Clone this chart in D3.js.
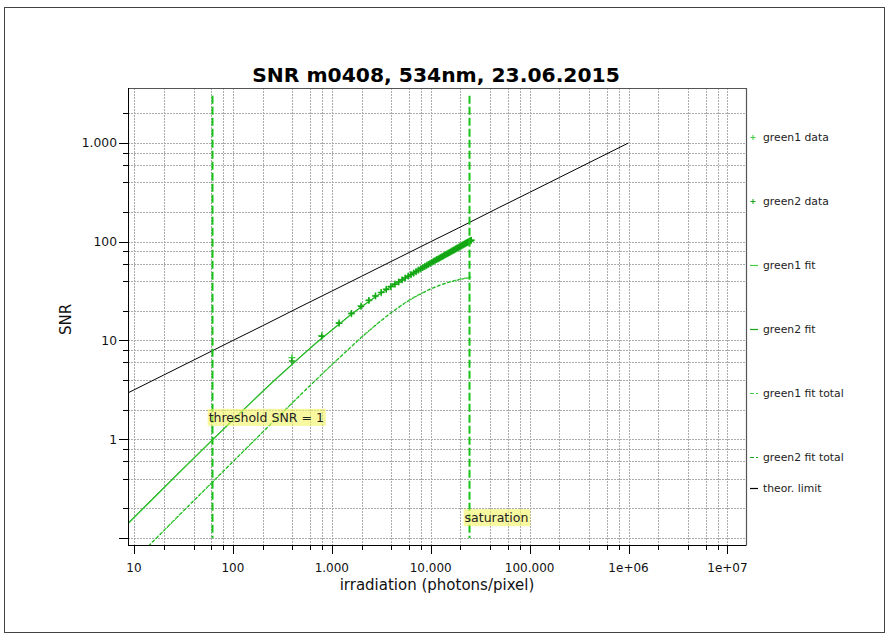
<!DOCTYPE html>
<html><head><meta charset="utf-8">
<script src="https://cdn.jsdelivr.net/npm/d3@7"></script>
<style>body{margin:0;background:#fff} svg{display:block} text{font-family:"DejaVu Sans",Verdana,sans-serif}</style>
</head><body><svg id="c" width="889" height="639"></svg>
<script>
const title = "SNR m0408, 534nm, 23.06.2015";
const xTitle = "irradiation (photons/pixel)";
const yTitle = "SNR";
const xTickValues = [10, 100, 1000, 10000, 100000, 1e6, 1e7];
const xTickLabels = ["10", "100", "1.000", "10.000", "100.000", "1e+06", "1e+07"];
const yTickValues = [0.1, 1, 10, 100, 1000];
const yTickLabels = ["", "1", "10", "100", "1.000"];
const minorMultiples = [2, 4, 6, 8];

const dataX = [395, 790, 1185, 1580, 1975, 2370, 2765, 3160, 3555, 3950,
  4345, 4740, 5135, 5530, 5925, 6320, 6715, 7110, 7505, 7900,
  8295, 8690, 9085, 9480, 9875, 10270, 10665, 11060, 11455, 11850,
  12245, 12640, 13035, 13430, 13825, 14220, 14615, 15010, 15405, 15800,
  16195, 16590, 16985, 17380, 17775, 18170, 18565, 18960, 19355, 19750,
  20145, 20540, 20935, 21330, 21725, 22120, 22515, 22910, 23305, 23700,
  24095, 24490, 24885, 25280, 25675];
const green1Data = [6.7, 11.2, 15.1, 18.6, 22.4, 25.4, 28.4, 30.5, 33.1, 35.0,
  37.4, 39.0, 41.3, 42.8, 44.9, 46.3, 48.3, 49.7, 51.6, 52.9,
  54.7, 56.0, 57.8, 58.9, 60.6, 61.7, 63.3, 64.3, 65.9, 66.8,
  68.4, 69.3, 70.8, 71.7, 73.2, 74.1, 75.5, 76.4, 77.8, 78.6,
  80.0, 80.8, 82.2, 82.9, 84.3, 85.0, 86.4, 87.1, 88.4, 89.1,
  90.4, 91.1, 92.4, 93.1, 94.4, 95.0, 96.3, 96.9, 98.2, 98.8,
  100.0, 100.6, 101.8, 102.4, 103.6];
const green2Data = [6.2, 11.0, 14.9, 18.9, 22.1, 25.6, 28.1, 30.7, 32.8, 35.3,
  37.1, 39.2, 41.0, 43.0, 44.6, 46.5, 48.0, 49.9, 51.3, 53.1,
  54.4, 56.2, 57.5, 59.1, 60.3, 61.9, 63.0, 64.5, 65.6, 67.0,
  68.1, 69.5, 70.5, 71.9, 72.9, 74.3, 75.2, 76.6, 77.5, 78.8,
  79.7, 81.0, 81.9, 83.1, 84.0, 85.2, 86.1, 87.3, 88.1, 89.3,
  90.1, 91.3, 92.1, 93.3, 94.0, 95.2, 96.0, 97.1, 97.9, 99.0,
  99.7, 100.8, 101.5, 102.6, 103.3];

const fitX = [8, 15, 30, 60, 120, 250, 500, 700, 1000, 1500, 2000, 3000, 4000, 5000, 7000, 10000, 15000, 20000, 25675];
const green1Fit = [0.128, 0.240, 0.478, 0.947, 1.86, 3.76, 7.05, 9.50, 12.7, 17.7, 22.0, 29.2, 35.4, 40.8, 50.6, 61.9, 77.3, 90.9, 104.0];
const green2Fit = [0.131, 0.245, 0.487, 0.962, 1.89, 3.80, 7.10, 9.55, 12.8, 17.8, 22.1, 29.3, 35.5, 40.9, 50.7, 62.0, 77.4, 91.0, 104.1];

const totalX = [8, 15, 30, 60, 120, 250, 500, 1000, 2000, 3000, 4000, 5500, 7000, 10000, 12500, 15000, 20000, 25675];
const green1Total = [0.048, 0.089, 0.179, 0.357, 0.712, 1.476, 2.92, 5.70, 10.83, 15.3, 19.2, 24.1, 27.9, 33.4, 36.5, 38.8, 41.8, 43.8];
const green2Total = [0.047, 0.088, 0.177, 0.353, 0.705, 1.46, 2.90, 5.66, 10.75, 15.2, 19.1, 23.9, 27.7, 33.2, 36.3, 38.6, 41.6, 43.5];

const theorX = [8, 10, 20, 50, 100, 200, 500, 1000, 2000, 5000, 10000, 20000, 50000, 100000, 200000, 500000, 1000000];
const theorSNR = [2.83, 3.16, 4.47, 7.07, 10, 14.1, 22.4, 31.6, 44.7, 70.7, 100, 141, 224, 316, 447, 707, 1000];

const thresholdX = 61;
const saturationX = 24150;
const markerRange = [0.1, 3000];
const thresholdLabel = "threshold SNR = 1";
const saturationLabel = "saturation";
const legendNames = ["green1 data", "green2 data", "green1 fit", "green2 fit", "green1 fit total", "green2 fit total", "theor. limit"];

const C1 = "#3fcf3f", C2 = "#14a514", CV = "#19c219";

const svg = d3.select("#c");
const L = 128, R = 746, T = 88, B = 545;
const x = d3.scaleLog().domain([8.7, 1.54e7]).range([L, R]);
const y = d3.scaleLog().domain([0.085, 3600]).range([B, T]);

svg.append("rect").attr("x", 4.5).attr("y", 7.5).attr("width", 880).attr("height", 625)
  .attr("fill", "none").attr("stroke", "#444").attr("stroke-width", 1);

function minors(dom, decs) {
  const out = [];
  decs.forEach(k => minorMultiples.forEach(m => { const v = m * Math.pow(10, k); if (v >= dom[0] && v <= dom[1]) out.push(v); }));
  return out;
}
const xMinor = minors(x.domain(), [0, 1, 2, 3, 4, 5, 6, 7]);
const yMinor = minors(y.domain(), [-2, -1, 0, 1, 2, 3]);

const grid = svg.append("g").attr("stroke", "#ababab").attr("stroke-dasharray", "2,1").attr("stroke-width", 1);
xTickValues.concat(xMinor).forEach(v => {
  const px = Math.round(x(v)) + 0.5;
  grid.append("line").attr("x1", px).attr("x2", px).attr("y1", T).attr("y2", B);
});
yTickValues.concat(yMinor).forEach(v => {
  const py = Math.round(y(v)) + 0.5;
  grid.append("line").attr("x1", L).attr("x2", R).attr("y1", py).attr("y2", py);
});

svg.append("path").attr("d", `M${L},${T + 0.5}H${R + 0.5}V${B}`).attr("fill", "none").attr("stroke", "#555").attr("stroke-width", 1.2);

svg.append("defs").append("clipPath").attr("id", "clip").append("rect")
  .attr("x", L).attr("y", T).attr("width", R - L).attr("height", B - T);
const plot = svg.append("g").attr("clip-path", "url(#clip)");

const line = d3.line().x(d => x(d[0])).y(d => y(d[1]));
const zip = (xs, ys) => xs.map((v, i) => [v, ys[i]]);

plot.append("path").attr("d", line(zip(theorX, theorSNR))).attr("fill", "none").attr("stroke", "#000").attr("stroke-width", 1);
plot.append("path").attr("d", line(zip(totalX, green1Total))).attr("fill", "none").attr("stroke", C1).attr("stroke-width", 1.4).attr("stroke-dasharray", "4,1.5");
plot.append("path").attr("d", line(zip(totalX, green2Total))).attr("fill", "none").attr("stroke", C2).attr("stroke-width", 1).attr("stroke-dasharray", "2,3");
plot.append("path").attr("d", line(zip(fitX, green1Fit))).attr("fill", "none").attr("stroke", C1).attr("stroke-width", 1.2);
plot.append("path").attr("d", line(zip(fitX, green2Fit))).attr("fill", "none").attr("stroke", C2).attr("stroke-width", 0.8);

function plus(g, pts, color, s) {
  g.selectAll(null).data(pts).enter().append("path")
    .attr("d", d => { const px = x(d[0]), py = y(d[1]); return `M${px - s},${py}H${px + s}M${px},${py - s}V${py + s}`; })
    .attr("stroke", color).attr("stroke-width", 1.4).attr("fill", "none");
}
plus(plot, zip(dataX, green1Data), C1, 3.5);
plus(plot, zip(dataX, green2Data), C2, 3);

[thresholdX, saturationX].forEach(v => {
  const px = Math.round(x(v)) + 0.5;
  svg.append("line").attr("x1", px).attr("x2", px).attr("y1", y(markerRange[1])).attr("y2", y(markerRange[0]))
    .attr("stroke", CV).attr("stroke-width", 2).attr("stroke-dasharray", "8,3");
});

function label(txt, px, py) {
  const g = svg.append("g");
  const r = g.append("rect").attr("fill", "#f4f460").attr("opacity", 0.6);
  const t = g.append("text").attr("x", px).attr("y", py).attr("font-size", 12.5).attr("fill", "#222").text(txt);
  const bb = t.node().getBBox();
  r.attr("x", bb.x - 1).attr("y", bb.y - 1).attr("width", bb.width + 3).attr("height", bb.height + 2);
}
label(thresholdLabel, x(thresholdX) - 3, y(1.5));
label(saturationLabel, x(saturationX) - 4, y(0.145));

const ax = svg.append("g").attr("stroke", "#000").attr("stroke-width", 1);
ax.append("line").attr("x1", L + 0.5).attr("x2", L + 0.5).attr("y1", T).attr("y2", B + 0.5);
ax.append("line").attr("x1", L).attr("x2", R + 0.5).attr("y1", B + 0.5).attr("y2", B + 0.5);
xTickValues.forEach(v => { const px = Math.round(x(v)) + 0.5; ax.append("line").attr("x1", px).attr("x2", px).attr("y1", B).attr("y2", B + 9); });
xMinor.forEach(v => { const px = Math.round(x(v)) + 0.5; ax.append("line").attr("x1", px).attr("x2", px).attr("y1", B).attr("y2", B + 5); });
yTickValues.forEach(v => { const py = Math.round(y(v)) + 0.5; ax.append("line").attr("x1", L - 9).attr("x2", L).attr("y1", py).attr("y2", py); });
yMinor.forEach(v => { const py = Math.round(y(v)) + 0.5; ax.append("line").attr("x1", L - 5).attr("x2", L).attr("y1", py).attr("y2", py); });

xTickValues.forEach((v, i) => svg.append("text").attr("x", x(v)).attr("y", B + 27).attr("text-anchor", "middle")
  .attr("font-size", 12).attr("fill", "#111").text(xTickLabels[i]));
yTickValues.forEach((v, i) => svg.append("text").attr("x", L - 11).attr("y", y(v) + 4.5).attr("text-anchor", "end")
  .attr("font-size", 12.3).attr("fill", "#111").text(yTickLabels[i]));

svg.append("text").attr("x", (L + R) / 2).attr("y", 590).attr("text-anchor", "middle").attr("font-size", 15).attr("fill", "#111").text(xTitle);
svg.append("text").attr("transform", `translate(71,${(T + B) / 2 + 3}) rotate(-90)`).attr("text-anchor", "middle").attr("font-size", 15).attr("fill", "#111").text(yTitle);
svg.append("text").attr("x", (L + R) / 2 - 1).attr("y", 82).attr("text-anchor", "middle").attr("font-size", 20.3).attr("font-weight", "bold").attr("fill", "#000").text(title);

const legendY = [137, 201, 265, 329, 393, 457, 488];
const lg = svg.append("g");
legendNames.forEach((n, i) => {
  const ly = legendY[i] + 0.5, lx = 753;
  const col = i === 6 ? "#000" : (i % 2 === 0 ? C1 : C2);
  if (i < 2) lg.append("path").attr("d", `M${lx - 2.5},${ly}H${lx + 2.5}M${lx},${ly - 2.5}V${ly + 2.5}`).attr("stroke", col).attr("stroke-width", 1);
  else if (i === 4 || i === 5) lg.append("line").attr("x1", lx - 3).attr("x2", lx + 5).attr("y1", ly).attr("y2", ly).attr("stroke", col).attr("stroke-width", 1).attr("stroke-dasharray", "4,2");
  else lg.append("line").attr("x1", lx - 3).attr("x2", lx + 5).attr("y1", ly).attr("y2", ly).attr("stroke", col).attr("stroke-width", 1.2);
  lg.append("text").attr("x", 763).attr("y", legendY[i] + 4).attr("font-size", 10.8).attr("fill", "#222").text(n);
});
</script></body></html>
